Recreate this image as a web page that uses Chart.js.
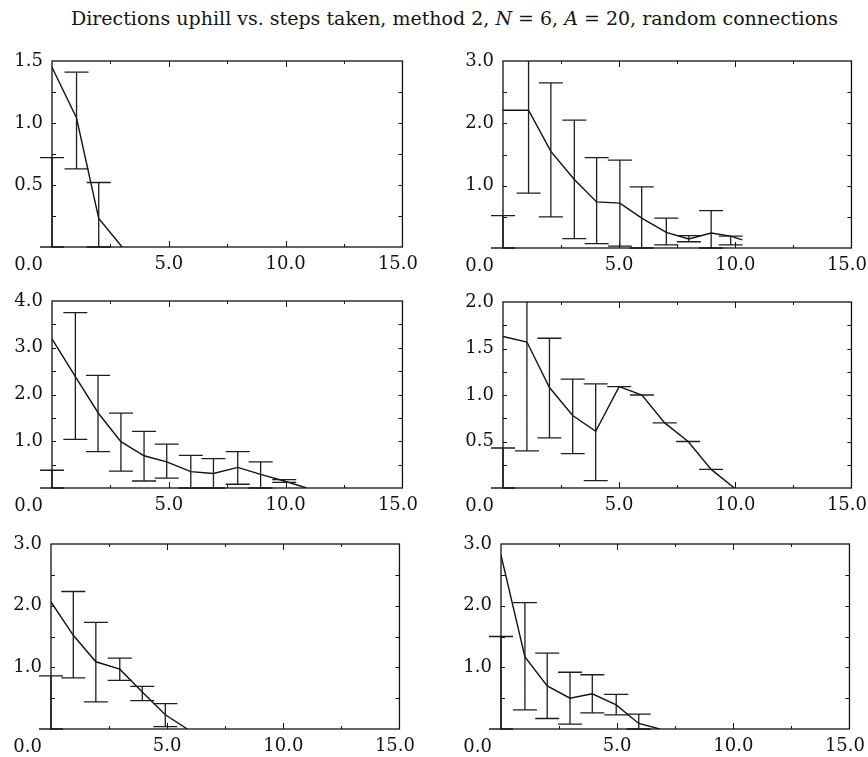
<!DOCTYPE html>
<html>
<head>
<meta charset="utf-8">
<script src="https://cdn.jsdelivr.net/npm/chart.js@4.4.1/dist/chart.umd.min.js"></script>
<style>
  html, body { margin: 0; padding: 0; background: #fff; }
  body { width: 868px; height: 757px; position: relative; overflow: hidden; }
  #title {
    position: absolute; left: 0; width: 909px; top: 7px;
    text-align: center; white-space: nowrap;
    font-family: "DejaVu Serif", serif; font-size: 19px; color: #151515;
  }
  .panel { position: absolute; }
</style>
</head>
<body>
<div id="title">Directions uphill vs. steps taken, method 2, <i>N</i> = 6, <i>A</i> = 20, random connections</div>
<script>
// steps taken (x), mean directions uphill (line), error bar low / high
const steps1 = [0, 1.05, 2.0, 3.0];
const mean1  = [1.45, 1.04, 0.23, 0];
const low1   = [0, 0.63, 0, null];
const high1  = [0.72, 1.41, 0.52, null];

const steps2 = [0, 1.1, 2.06, 3.07, 4.03, 5.03, 5.97, 7.03, 8.0, 8.96, 9.8, 10.3];
const mean2  = [2.21, 2.21, 1.55, 1.10, 0.74, 0.72, 0.48, 0.25, 0.145, 0.24, 0.19, 0.13];
const low2   = [0, 0.88, 0.50, 0.15, 0.07, 0.03, 0, 0.05, 0.10, 0, 0.05, null];
const high2  = [0.52, 3.3, 2.65, 2.05, 1.45, 1.41, 0.98, 0.48, 0.20, 0.60, 0.19, null];

const steps3 = [0, 1.0, 1.97, 2.95, 3.94, 4.91, 5.94, 6.91, 7.95, 8.93, 9.94, 10.9];
const mean3  = [3.19, 2.38, 1.61, 0.99, 0.69, 0.56, 0.35, 0.31, 0.44, 0.29, 0.15, 0];
const low3   = [0, 1.04, 0.78, 0.36, 0.15, 0.21, 0, 0, 0.08, 0, 0.12, null];
const high3  = [0.38, 3.75, 2.41, 1.60, 1.21, 0.94, 0.70, 0.63, 0.78, 0.56, 0.18, null];

const steps4 = [0, 1.03, 2.0, 3.0, 3.99, 5.0, 5.98, 6.96, 7.97, 8.96, 9.96];
const mean4  = [1.63, 1.57, 1.08, 0.78, 0.61, 1.09, 1.0, 0.70, 0.50, 0.20, 0];
const low4   = [0, 0.40, 0.54, 0.37, 0.08, 1.09, 1.0, 0.70, 0.50, 0.20, null];
const high4  = [0.43, 2.2, 1.61, 1.17, 1.12, 1.09, 1.0, 0.70, 0.50, 0.20, null];

const steps5 = [0, 0.96, 1.93, 2.96, 3.93, 4.92, 5.87];
const mean5  = [2.06, 1.52, 1.09, 0.97, 0.60, 0.23, 0];
const low5   = [0, 0.83, 0.44, 0.79, 0.46, 0.04, null];
const high5  = [0.86, 2.23, 1.73, 1.15, 0.69, 0.41, null];

const steps6 = [0, 1.03, 1.99, 2.97, 3.93, 4.96, 5.93, 6.83];
const mean6  = [2.82, 1.17, 0.70, 0.50, 0.57, 0.39, 0.09, 0];
const low6   = [0, 0.31, 0.17, 0.08, 0.26, 0.23, 0, null];
const high6  = [1.50, 2.05, 1.23, 0.92, 0.88, 0.56, 0.24, null];

// axis ranges and tick steps per panel
const yMax  = [1.5, 3, 4, 2, 3, 3];
const yStep = [0.5, 1, 1, 0.5, 1, 1];
const xMax = 15;
const xStep = 5;

const panels = [
  [steps1, mean1, low1, high1],
  [steps2, mean2, low2, high2],
  [steps3, mean3, low3, high3],
  [steps4, mean4, low4, high4],
  [steps5, mean5, low5, high5],
  [steps6, mean6, low6, high6],
];

// plot area of each panel on the page: left, top, width, height
const boxes = [
  [52, 61, 352, 186], [503, 61, 350, 187],
  [52, 301, 352, 187], [503, 302, 350, 186],
  [51, 544, 350, 185], [501, 544, 350, 185],
];
const AXIS_W = 55, AXIS_H = 32, PAD_TOP = 20, PAD_RIGHT = 30;
const CAP = 12;
const INK = '#121212';
const FONT_SIZE = 18;

Chart.defaults.font.family = '"DejaVu Serif", serif';
Chart.defaults.font.size = FONT_SIZE;
Chart.defaults.color = INK;

// vertical bars with caps, drawn through the chart scales
const errorBars = {
  id: 'errorBars',
  afterDatasetsDraw(chart, args, opts) {
    const { ctx, chartArea: a, scales: { x, y } } = chart;
    const pts = chart.data.datasets[0].data;
    ctx.save();
    ctx.strokeStyle = '#1e1e1e';
    ctx.lineWidth = 1.3;
    ctx.beginPath();
    opts.low.forEach((lo, i) => {
      const hi = opts.high[i];
      if (lo == null || hi == null) return;
      const px = x.getPixelForValue(pts[i].x);
      const yLo = y.getPixelForValue(lo);
      const yHi = Math.max(y.getPixelForValue(hi), a.top);
      ctx.moveTo(px, yLo); ctx.lineTo(px, yHi);
      ctx.moveTo(px - CAP, yLo); ctx.lineTo(px + CAP, yLo);
      if (hi <= y.max) { ctx.moveTo(px - CAP, yHi); ctx.lineTo(px + CAP, yHi); }
    });
    ctx.stroke();
    ctx.restore();
  }
};

// box frame with inward tick marks, plus the corner "0.0"
const frameTicks = {
  id: 'frameTicks',
  afterDraw(chart) {
    const { ctx, chartArea: a, scales: { x, y } } = chart;
    ctx.save();
    ctx.strokeStyle = INK;
    ctx.lineWidth = 1.3;
    ctx.strokeRect(a.left, a.top, a.right - a.left, a.bottom - a.top);
    ctx.lineWidth = 1;
    ctx.beginPath();
    for (let v = xStep / 2; v < x.max - 1e-9; v += xStep / 2) {
      const px = Math.round(x.getPixelForValue(v)) + 0.5;
      const len = v % xStep === 0 ? 6 : 3;
      ctx.moveTo(px, a.top); ctx.lineTo(px, a.top + len);
      ctx.moveTo(px, a.bottom); ctx.lineTo(px, a.bottom - len);
    }
    const half = chart.options.scales.y.ticks.stepSize / 2;
    for (let v = half; v < y.max - 1e-9; v += half) {
      const py = Math.round(y.getPixelForValue(v)) + 0.5;
      ctx.moveTo(a.left, py); ctx.lineTo(a.left + 4, py);
      ctx.moveTo(a.right, py); ctx.lineTo(a.right - 4, py);
    }
    ctx.stroke();
    ctx.fillStyle = INK;
    ctx.font = FONT_SIZE + 'px "DejaVu Serif", serif';
    ctx.textAlign = 'right';
    ctx.textBaseline = 'middle';
    ctx.fillText('0.0', a.left - 9, a.bottom + 18);
    ctx.restore();
  }
};

const fmtY = (v) => (v === 0 ? '' : v.toFixed(1));
// last x label sits a little left of its tick, as in the original
const fmtX = (v) => (v === 0 ? '' : v === xMax ? v.toFixed(1) + '\u2002' : v.toFixed(1));

panels.forEach(([steps, mean, low, high], i) => {
  const [L, T, W, H] = boxes[i];
  const div = document.createElement('div');
  div.className = 'panel';
  div.style.left = (L - AXIS_W) + 'px';
  div.style.top = (T - PAD_TOP) + 'px';
  const canvas = document.createElement('canvas');
  canvas.width = W + AXIS_W + PAD_RIGHT;
  canvas.height = H + PAD_TOP + AXIS_H;
  div.appendChild(canvas);
  document.body.appendChild(div);

  new Chart(canvas.getContext('2d'), {
    type: 'line',
    data: {
      datasets: [{
        data: steps.map((s, k) => ({ x: s, y: mean[k] })),
        borderColor: INK,
        borderWidth: 1.4,
        pointRadius: 0,
        tension: 0,
        fill: false,
      }],
    },
    options: {
      responsive: false,
      animation: false,
      layout: { padding: { top: PAD_TOP, right: PAD_RIGHT, left: 0, bottom: 0 } },
      scales: {
        x: {
          type: 'linear',
          min: 0,
          max: xMax,
          grid: { display: false, drawTicks: false },
          border: { display: false },
          ticks: { stepSize: xStep, padding: 7, maxRotation: 0, callback: fmtX },
          afterFit: (scale) => { scale.height = AXIS_H; },
        },
        y: {
          min: 0,
          max: yMax[i],
          grid: { display: false, drawTicks: false },
          border: { display: false },
          ticks: { stepSize: yStep[i], padding: 9, callback: fmtY },
          afterFit: (scale) => { scale.width = AXIS_W; },
        },
      },
      plugins: {
        legend: { display: false },
        tooltip: { enabled: false },
        errorBars: { low: low, high: high },
      },
    },
    plugins: [errorBars, frameTicks],
  });
});
</script>
</body>
</html>
